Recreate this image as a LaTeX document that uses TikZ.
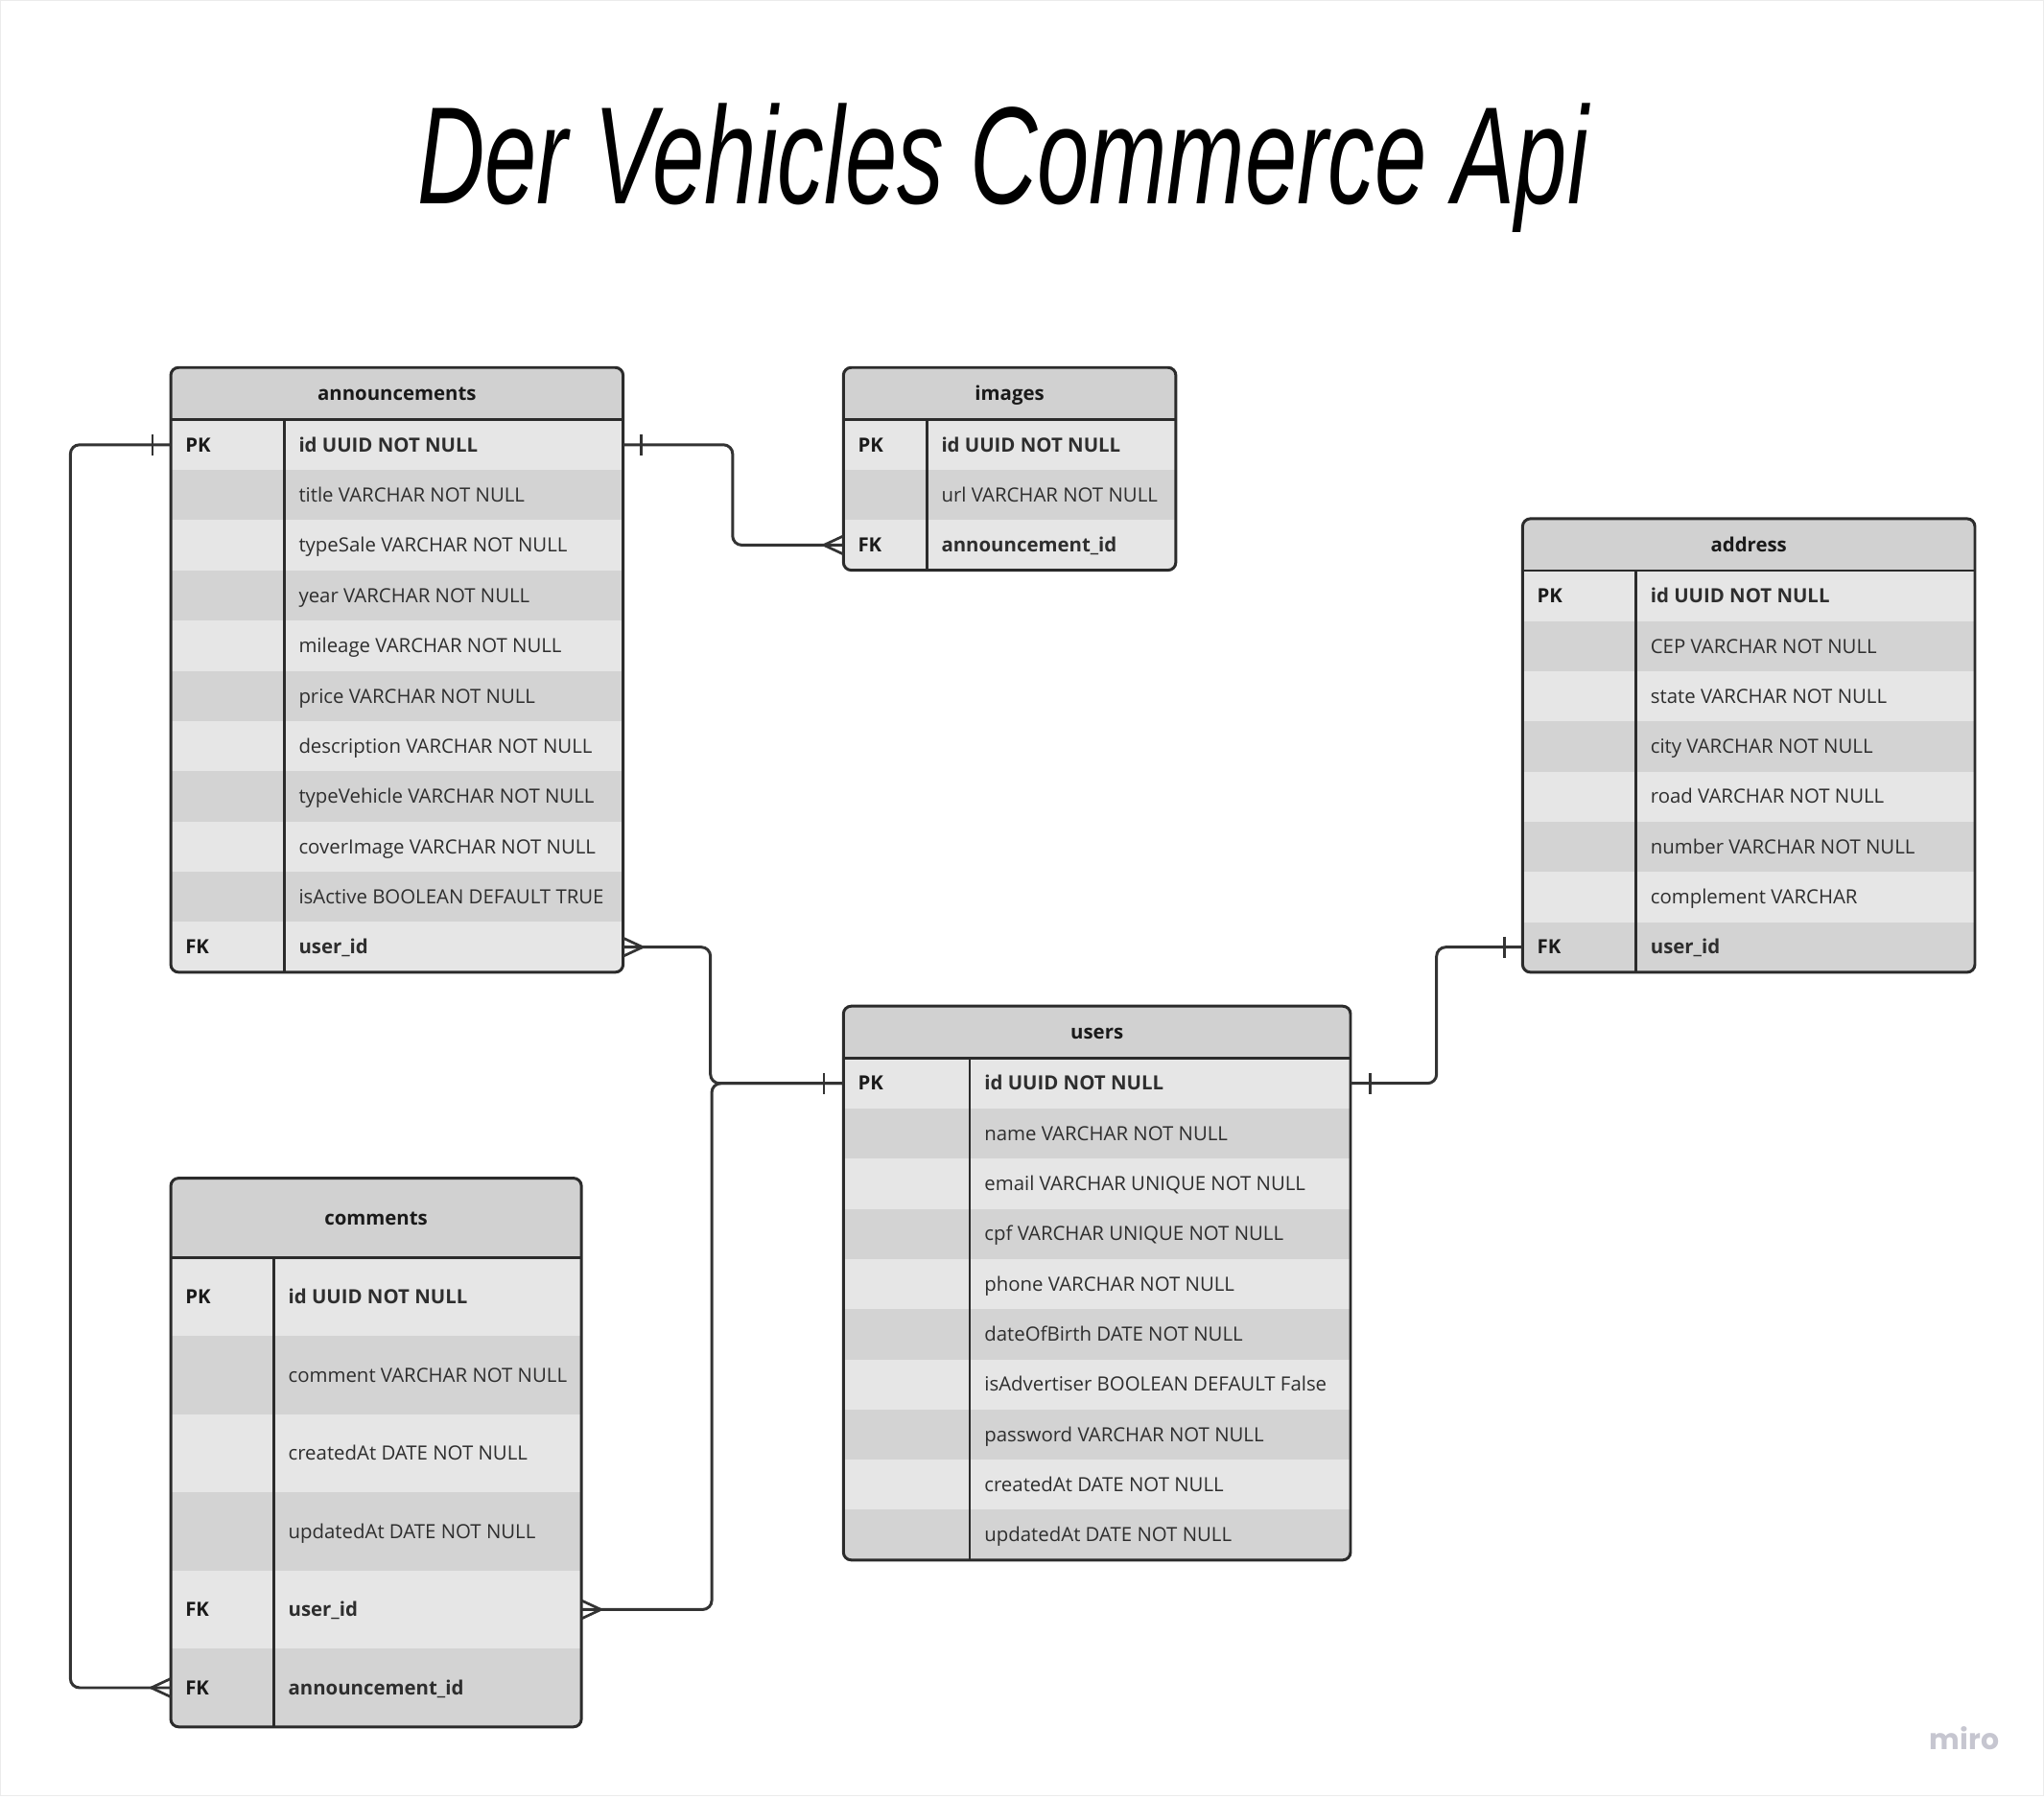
\documentclass[tikz,border=0pt]{standalone}
\usepackage{graphicx}
\usepackage{fontspec}
\setmainfont{Open Sans}
\newfontfamily\titlefont{Liberation Sans}
\newfontfamily\mirofont{Poppins}
\newcommand\tblfont{\fontsize{15}{18}\selectfont}
\definecolor{rowA}{HTML}{E6E6E6}
\definecolor{rowB}{HTML}{D3D3D3}
\definecolor{hdrc}{HTML}{D1D1D1}
\definecolor{bordc}{HTML}{2B2B2B}
\definecolor{connc}{HTML}{333333}
\definecolor{txt}{HTML}{1A1A1A}
\definecolor{fldc}{HTML}{2E2E2E}
\definecolor{miroc}{HTML}{C6C6D0}
\tikzset{
  rowbox/.style={rectangle, anchor=north west, inner sep=0pt, outer sep=0pt, draw=none},
  keytxt/.style={anchor=west, inner sep=0pt, font=\tblfont\bfseries, text=txt, text height=10.7pt, text depth=0pt},
  fldtxt/.style={anchor=west, inner sep=0pt, font=\tblfont, text=fldc, text height=10.7pt, text depth=0pt},
  hdrtxt/.style={anchor=center, inner sep=0pt, font=\tblfont\bfseries, text=txt, text height=10.7pt, text depth=0pt},
  border/.style={draw=bordc, line width=2.2pt, rounded corners=6pt},
  sepline/.style={draw=bordc, line width=1.8pt},
  conn/.style={draw=connc, line width=2.2pt, rounded corners=7pt},
  crowfoot/.style={draw=connc, line width=2pt},
  tickbar/.style={draw=connc, line width=2pt},
}
% #1 name #2 L #3 R #4 T #5 header bottom #6 B #7 divider #8 title #9 rows
\newcommand\ertable[9]{%
  \foreach [count=\n] \x in {#9} {\xdef\nrows{\n}}%
  \pgfmathsetmacro\rh{(#6-#5)/\nrows}%
  \begin{scope}
    \clip[rounded corners=6pt] (#2,#4) rectangle (#3,#6);
    \fill[hdrc] (#2,#4) rectangle (#3,#5);
    \foreach [count=\i] \k/\f in {#9} {%
      \ifodd\i\def\rc{rowA}\else\def\rc{rowB}\fi
      \node[rowbox, fill=\rc, minimum width={(#3-#2)*1pt}, minimum height={\rh*1pt}] (#1\i) at (#2,{#5+(\i-1)*\rh}) {};
      \node[keytxt] (#1k\i) at ({#2+11},{#5+(\i-0.5)*\rh}) {\k};
      \node[fldtxt] (#1f\i) at ({#7+11},{#5+(\i-0.5)*\rh}) {\f};
    }
  \end{scope}
  \node[hdrtxt] (#1h) at ({(#2+#3)/2},{(#4+#5)/2}) {#8};
  \draw[sepline] (#2,#5) -- (#3,#5);
  \draw[sepline] (#7,#5) -- (#7,#6);
  \draw[border] (#2,#4) rectangle (#3,#6);
}
\begin{document}
\begin{tikzpicture}[x=1pt,y=-1pt]
\useasboundingbox (0,0) rectangle (1568,1380);
\fill[white] (0,0) rectangle (1568,1380);
\draw[draw=black!8, line width=1pt] (0.5,0.5) rectangle (1567.5,1378);

\node[anchor=base west, inner sep=0pt] (title) at (320,156)
  {\resizebox{898pt}{77pt}{\titlefont\itshape Der Vehicles Commerce Api}};

\ertable{ann}{131}{478}{282}{322}{746}{218}{announcements}{
  PK/{\bfseries id UUID NOT NULL},
  /title VARCHAR NOT NULL,
  /typeSale VARCHAR NOT NULL,
  /year VARCHAR NOT NULL,
  /mileage VARCHAR NOT NULL,
  /price VARCHAR NOT NULL,
  /description VARCHAR NOT NULL,
  /typeVehicle VARCHAR NOT NULL,
  /coverImage VARCHAR NOT NULL,
  /isActive BOOLEAN DEFAULT TRUE,
  FK/{\bfseries user\_id}}

\ertable{img}{647}{902}{282}{322}{437.5}{711}{images}{
  PK/{\bfseries id UUID NOT NULL},
  /url VARCHAR NOT NULL,
  FK/{\bfseries announcement\_id}}

\ertable{adr}{1168}{1515}{398}{438}{746}{1255}{address}{
  PK/{\bfseries id UUID NOT NULL},
  /CEP VARCHAR NOT NULL,
  /state VARCHAR NOT NULL,
  /city VARCHAR NOT NULL,
  /road VARCHAR NOT NULL,
  /number VARCHAR NOT NULL,
  /complement VARCHAR,
  FK/{\bfseries user\_id}}

\ertable{usr}{647}{1036}{772}{812}{1197}{744}{users}{
  PK/{\bfseries id UUID NOT NULL},
  /name VARCHAR NOT NULL,
  /email VARCHAR UNIQUE NOT NULL,
  /cpf VARCHAR UNIQUE NOT NULL,
  /phone VARCHAR NOT NULL,
  /dateOfBirth DATE NOT NULL,
  /isAdvertiser BOOLEAN DEFAULT False,
  /password VARCHAR NOT NULL,
  /createdAt DATE NOT NULL,
  /updatedAt DATE NOT NULL}

\ertable{com}{131}{446}{904}{965}{1325}{210}{comments}{
  PK/{\bfseries id UUID NOT NULL},
  /comment VARCHAR NOT NULL,
  /createdAt DATE NOT NULL,
  /updatedAt DATE NOT NULL,
  FK/{\bfseries user\_id},
  FK/{\bfseries announcement\_id}}

% connectors
\draw[conn] (ann1.east) -- ++(84,0) |- (img3.west);
\draw[conn] (ann11.east) -- ++(67,0) |- (usr1.west);
\draw[conn] (com5.east) -- ++(100,0) |- (usr1.west);
\draw[conn] (usr1.east) -- ++(66,0) |- (adr8.west);
\draw[conn] (ann1.west) -- ++(-77,0) |- (com6.west);

% one-bars
\draw[tickbar] ([xshift=14pt,yshift=8pt]ann1.east) -- ([xshift=14pt,yshift=-8pt]ann1.east);
\draw[tickbar] ([xshift=-14pt,yshift=8pt]ann1.west) -- ([xshift=-14pt,yshift=-8pt]ann1.west);
\draw[tickbar] ([xshift=-15pt,yshift=8pt]usr1.west) -- ([xshift=-15pt,yshift=-8pt]usr1.west);
\draw[tickbar] ([xshift=15pt,yshift=8pt]usr1.east) -- ([xshift=15pt,yshift=-8pt]usr1.east);
\draw[tickbar] ([xshift=-14pt,yshift=8pt]adr8.west) -- ([xshift=-14pt,yshift=-8pt]adr8.west);

% crow's feet
\draw[crowfoot] ([yshift=7pt]img3.west) -- ([xshift=-15pt]img3.west) -- ([yshift=-7pt]img3.west);
\draw[crowfoot] ([yshift=7pt]ann11.east) -- ([xshift=15pt]ann11.east) -- ([yshift=-7pt]ann11.east);
\draw[crowfoot] ([yshift=7pt]com5.east) -- ([xshift=15pt]com5.east) -- ([yshift=-7pt]com5.east);
\draw[crowfoot] ([yshift=7pt]com6.west) -- ([xshift=-15pt]com6.west) -- ([yshift=-7pt]com6.west);

\node[inner sep=0pt, text=miroc, font=\mirofont\bfseries\fontsize{22}{24}\selectfont] (miro) at (1507,1334) {miro};
\end{tikzpicture}
\end{document}
